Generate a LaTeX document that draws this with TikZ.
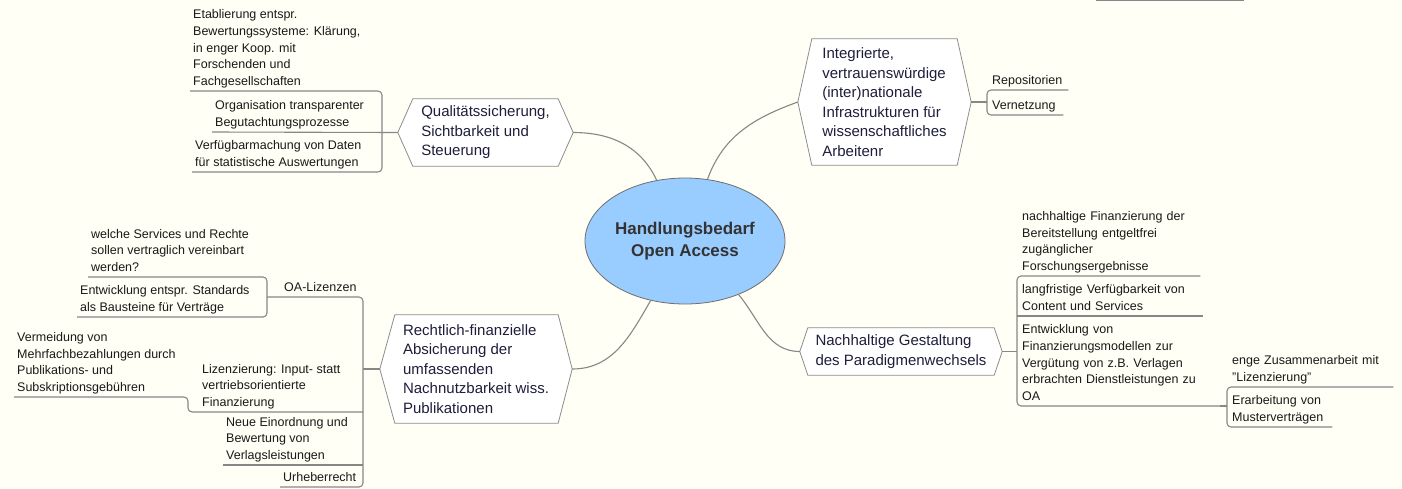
\documentclass[tikz,border=0pt]{standalone}
\usepackage{fontspec}
\setmainfont{Liberation Sans}
\usetikzlibrary{positioning, shapes.geometric, backgrounds}
\definecolor{paper}{RGB}{255, 255, 245}
\definecolor{linkgray}{RGB}{135, 135, 135}
\definecolor{hexedge}{RGB}{140, 140, 140}
\definecolor{hubblue}{RGB}{153, 204, 255}
\definecolor{hubedge}{RGB}{110, 110, 110}
\definecolor{hubtext}{RGB}{51, 51, 51}
\definecolor{topictext}{RGB}{30, 30, 60}
\definecolor{leaftext}{RGB}{25, 25, 25}

\begin{document}
\begin{tikzpicture}[
            x=1pt, y=1pt,
            hub/.style={ellipse, draw=hubedge, fill=hubblue, line width=0.8pt, inner sep=0pt, minimum width=200pt, minimum height=126pt, align=center, text=hubtext, font=\fontsize{17}{22}\selectfont\bfseries},
            topic/.style={inner sep=0pt, align=left, text=topictext, font=\fontsize{15}{19.5}\selectfont},
            hexa/.style={draw=hexedge, fill=white, line width=0.8pt, line join=round},
            leaf/.style={anchor=south west, inner xsep=3pt, inner ysep=0pt, align=left, text=leaftext, font=\fontsize{12.5}{16.8}\selectfont, execute at end node=\strut},
            rleaf/.style={leaf, inner xsep=5pt},
            link/.style={draw=linkgray, line width=1.1pt, rounded corners=4pt}
        ]
            \useasboundingbox (0,0) rectangle (1402,-488);

            \node[hub] (hub) at (685,-241) {Handlungsbedarf\\Open Access};

            \node[topic, minimum width=175pt, minimum height=67pt] (qual) at (485.5,-132.5) {Qualitätssicherung,\\Sichtbarkeit und\\Steuerung};
            \node[topic, minimum width=173pt, minimum height=126pt] (integ) at (884.5,-102) {Integrierte,\\vertrauenswürdige\\(inter)nationale\\Infrastrukturen für\\wissenschaftliches\\Arbeitenr};
            \node[topic, minimum width=192pt, minimum height=108pt] (recht) at (476,-369) {Rechtlich-finanzielle\\Absicherung der\\umfassenden\\Nachnutzbarkeit wiss.\\Publikationen};
            \node[topic, minimum width=202pt, minimum height=47pt] (nach) at (901,-351.5) {Nachhaltige Gestaltung\\des Paradigmenwechsels};

            \begin{scope}[on background layer]
                \fill[paper] (0,0) rectangle (1402,-488);
                \draw[hexa] (qual.west) -- ([xshift=15pt]qual.north west) -- ([xshift=-15pt]qual.north east) -- (qual.east) -- ([xshift=-15pt]qual.south east) -- ([xshift=15pt]qual.south west) -- cycle;
                \draw[hexa] (integ.west) -- ([xshift=14pt]integ.north west) -- ([xshift=-14pt]integ.north east) -- (integ.east) -- ([xshift=-14pt]integ.south east) -- ([xshift=14pt]integ.south west) -- cycle;
                \draw[hexa] (recht.west) -- ([xshift=15pt]recht.north west) -- ([xshift=-14pt]recht.north east) -- (recht.east) -- ([xshift=-14pt]recht.south east) -- ([xshift=15pt]recht.south west) -- cycle;
                \draw[hexa] (nach.west) -- ([xshift=8pt]nach.north west) -- ([xshift=-8pt]nach.north east) -- (nach.east) -- ([xshift=-8pt]nach.south east) -- ([xshift=8pt]nach.south west) -- cycle;
            \end{scope}

            \coordinate (qbar) at (382,-132);
            \coordinate (rbar) at (363,-369);
            \coordinate (obar) at (267,-297);
            \coordinate (lbar) at (188,-412);
            \coordinate (cutl) at (1096,-0.6);
            \coordinate (cutr) at (1244,-0.6);

            \node[leaf] (etab) at (190,-91) {Etablierung entspr.\\Bewertungssysteme:  Klärung,\\in enger Koop. mit\\Forschenden und\\Fachgesellschaften};
            \node[leaf] (orga) at (212,-132) {Organisation transparenter\\Begutachtungsprozesse};
            \node[leaf] (verf) at (192,-172) {Verfügbarmachung von Daten\\für statistische Auswertungen};

            \node[rleaf, text width=71pt] (repo) at (987,-90) {Repositorien};
            \node[rleaf, text width=66pt] (vern) at (987,-115) {Vernetzung};

            \node[leaf] (oalz) at (281,-297) {OA-Lizenzen};
            \node[leaf] (welc) at (88,-277) {welche Services und Rechte\\sollen vertraglich vereinbart\\werden?};
            \node[leaf] (ents) at (77,-317) {Entwicklung entspr. Standards\\als Bausteine für Verträge};
            \node[leaf] (lizz) at (199,-412) {Lizenzierung: Input- statt\\vertriebsorientierte\\Finanzierung};
            \node[leaf] (verm) at (14,-397) {Vermeidung von\\Mehrfachbezahlungen durch\\Publikations- und\\Subskriptionsgebühren};
            \node[leaf] (neue) at (223,-465) {Neue Einordnung und\\Bewertung  von\\Verlagsleistungen};
            \node[leaf] (urhe) at (280,-487) {Urheberrecht};

            \node[rleaf, text width=173pt] (nfin) at (1017,-276) {nachhaltige Finanzierung der\\Bereitstellung entgeltfrei\\zugänglicher\\Forschungsergebnisse};
            \node[rleaf, text width=176pt] (lang) at (1017,-316) {langfristige Verfügbarkeit von\\Content und Services};
            \node[rleaf, text width=193pt] (entw) at (1017,-406) {Entwicklung  von\\Finanzierungsmodellen zur\\Vergütung von z.B. Verlagen\\erbrachten Dienstleistungen zu\\OA};
            \node[rleaf, text width=156pt] (enge) at (1227,-387) {enge Zusammenarbeit mit\\"Lizenzierung"};
            \node[rleaf, text width=95pt] (erar) at (1227,-427) {Erarbeitung von\\Musterverträgen};

            \draw[link] (qual.east) to[out=0, in=115] (hub.115);
            \draw[link] (hub.70) to[out=70, in=200] (integ.west);
            \draw[link] (recht.east) to[out=0, in=240] (hub.240);
            \draw[link] (hub.-45) to[out=-50, in=180] (nach.west);

            \draw[link] (qual.west) -- (orga.south west);
            \draw[link] (etab.south west) -| (qbar) |- (verf.south west);

            \draw[link] (integ.east) -- (integ.east -| repo.south west);
            \draw[link] (repo.south east) -- (repo.south west) -- (vern.south west) -- (vern.south east);

            \draw[link] (recht.west) -- (rbar);
            \draw[link] (obar) -- (oalz.south west) -| (rbar) |- (urhe.south west);
            \draw[link] (welc.south west) -| (obar) |- (ents.south west);
            \draw[link] (verm.south west) -| (lbar) -- (lbar -| rbar);
            \draw[link] (neue.south west) -- (neue.south west -| rbar);

            \draw[link] (nach.east) -- (nach.east -| nfin.south west);
            \draw[link] (nfin.south east) -- (nfin.south west) -- (entw.south west) -- (entw.south east);
            \draw[link] (lang.south west) -- (lang.south east);
            \draw[link] (entw.south east) -- (entw.south east -| enge.south west);
            \draw[link] (enge.south east) -- (enge.south west) -- (erar.south west) -- (erar.south east);

            \draw[link] (cutl) -- (cutr);
        \end{tikzpicture}
\end{document}
